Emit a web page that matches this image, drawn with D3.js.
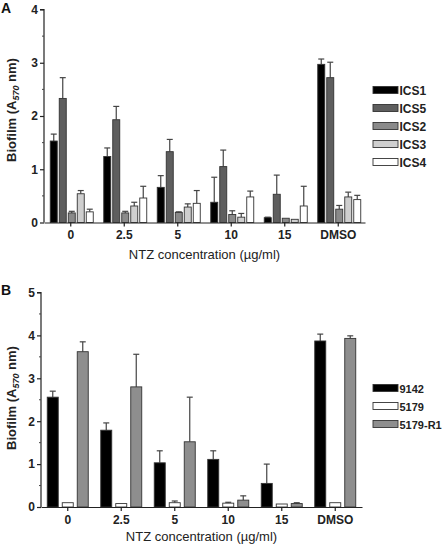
<!DOCTYPE html>
<html><head><meta charset="utf-8">
<script src="https://cdn.jsdelivr.net/npm/d3@7"></script>
<style>body{margin:0;background:#fff}svg{display:block}</style>
</head><body>
<svg id="c" width="444" height="546"></svg>
<script>
// ---- Data ----
const categories = ["0", "2.5", "5", "10", "15", "DMSO"];

// Panel A
const seriesA = ["ICS1", "ICS5", "ICS2", "ICS3", "ICS4"];
const legendOrderA = ["ICS1", "ICS5", "ICS2", "ICS3", "ICS4"];
const ICS1 = [1.53, 1.24, 0.66, 0.38, 0.09, 2.97];
const ICS1err = [0.13, 0.16, 0.22, 0.47, 0.01, 0.10];
const ICS5 = [2.33, 1.93, 1.33, 1.05, 0.53, 2.72];
const ICS5err = [0.39, 0.25, 0.23, 0.31, 0.36, 0.29];
const ICS2 = [0.18, 0.18, 0.19, 0.15, 0.08, 0.25];
const ICS2err = [0.03, 0.03, 0.01, 0.07, 0.0, 0.07];
const ICS3 = [0.54, 0.31, 0.29, 0.10, 0.06, 0.48];
const ICS3err = [0.06, 0.07, 0.06, 0.07, 0.0, 0.09];
const ICS4 = [0.20, 0.46, 0.36, 0.48, 0.31, 0.43];
const ICS4err = [0.05, 0.22, 0.24, 0.11, 0.37, 0.08];
const yTicksA = [0, 1, 2, 3, 4];

// Panel B
const seriesB = ["9142", "5179", "5179-R1"];
const S9142 = [2.56, 1.79, 1.03, 1.11, 0.55, 3.87];
const S9142err = [0.14, 0.17, 0.28, 0.20, 0.45, 0.16];
const S5179 = [0.10, 0.08, 0.10, 0.09, 0.07, 0.10];
const S5179err = [0.0, 0.0, 0.04, 0.02, 0.0, 0.0];
const S5179R1 = [3.62, 2.80, 1.52, 0.16, 0.08, 3.93];
const S5179R1err = [0.23, 0.76, 1.04, 0.10, 0.02, 0.06];
const yTicksB = [0, 1, 2, 3, 4, 5];

const colorsA = {ICS1: "#000000", ICS5: "#5e5e5e", ICS2: "#8a8a8a", ICS3: "#cfcfcf", ICS4: "#ffffff"};
const colorsB = {"9142": "#000000", "5179": "#ffffff", "5179-R1": "#8e8e8e"};

const dataA = {ICS1: [ICS1, ICS1err], ICS5: [ICS5, ICS5err], ICS2: [ICS2, ICS2err], ICS3: [ICS3, ICS3err], ICS4: [ICS4, ICS4err]};
const dataB = {"9142": [S9142, S9142err], "5179": [S5179, S5179err], "5179-R1": [S5179R1, S5179R1err]};

const svg = d3.select("#c");
const FONT = "'Liberation Sans', Arial, sans-serif";

function panel(opts) {
  const g = svg.append("g");
  const x = d3.scaleBand().domain(categories).range([opts.x0, opts.x1]);
  const y = d3.scaleLinear().domain([0, opts.ymax]).range([opts.y0, opts.y1]);
  const inner = d3.scaleBand().domain(opts.series).range([0, opts.step * opts.series.length]).paddingInner(0);
  const groupW = opts.step * (opts.series.length - 1) + opts.barW;

  // bars
  opts.series.forEach((s, si) => {
    const [vals, errs] = opts.data[s];
    categories.forEach((c, ci) => {
      const cx = x(c) + x.bandwidth() / 2 + opts.shift;
      const bx = cx - groupW / 2 + inner(s);
      const v = vals[ci], e = errs[ci];
      if (e > 0) {
        const mx = bx + opts.barW / 2;
        g.append("line").attr("x1", mx).attr("x2", mx).attr("y1", y(v)).attr("y2", y(v + e))
          .attr("stroke", "#444").attr("stroke-width", 1.2);
        g.append("line").attr("x1", mx - 3).attr("x2", mx + 3).attr("y1", y(v + e)).attr("y2", y(v + e))
          .attr("stroke", "#444").attr("stroke-width", 1.2);
      }
      g.append("rect").attr("x", bx).attr("y", y(v)).attr("width", opts.barW).attr("height", y(0) - y(v))
        .attr("fill", opts.colors[s]).attr("stroke", "#333").attr("stroke-width", 0.9);
    });
  });

  // y axis
  const yAxis = d3.axisLeft(y).tickValues(opts.yTicks).tickSize(4).tickFormat(d3.format("d"));
  const ya = g.append("g").attr("transform", `translate(${opts.x0},0)`).call(yAxis);
  ya.select(".domain").attr("stroke", "#222").attr("stroke-width", 1.2).attr("d", `M-4,${opts.y1}H0V${opts.y0}`);
  ya.selectAll(".tick line").attr("stroke", "#222").attr("stroke-width", 1.2);
  ya.selectAll(".tick text").attr("font-family", FONT).attr("font-weight", "bold").attr("font-size", 12).attr("fill", "#222").attr("x", -6);
  const minor = d3.range(0.5, opts.ymax, 1);
  g.selectAll(null).data(minor).enter().append("line")
    .attr("x1", opts.x0 - 2).attr("x2", opts.x0).attr("y1", d => y(d)).attr("y2", d => y(d))
    .attr("stroke", "#444").attr("stroke-width", 1);

  // x axis
  const xAxis = d3.axisBottom(x).tickSize(4).tickSizeOuter(0);
  const xa = g.append("g").attr("transform", `translate(0,${opts.y0})`).call(xAxis);
  xa.select(".domain").attr("stroke", "#222").attr("stroke-width", 1.2);
  xa.selectAll(".tick line").attr("stroke", "#222").attr("stroke-width", 1.2);
  xa.selectAll(".tick text").attr("font-family", FONT).attr("font-weight", "bold").attr("font-size", 12).attr("fill", "#222").attr("y", 8);

  // titles
  g.append("text").attr("x", (opts.x0 + opts.x1) / 2).attr("y", opts.xTitleY).attr("text-anchor", "middle")
    .attr("font-family", FONT).attr("font-size", 13).attr("fill", "#222").text("NTZ concentration (\u00b5g/ml)");
  const yt = g.append("text").attr("transform", `translate(${opts.yTitleX},${opts.yTitleC}) rotate(-90)`).attr("text-anchor", "middle")
    .attr("font-family", FONT).attr("font-size", 13).attr("font-weight", "bold").attr("fill", "#222");
  yt.append("tspan").text("Biofilm (A");
  yt.append("tspan").attr("font-size", 9).attr("font-style", "italic").attr("dy", 3).text("570");
  yt.append("tspan").attr("dy", -3).text(" nm)");

  g.append("text").attr("x", 1).attr("y", opts.labelY).attr("font-family", FONT).attr("font-weight", "bold")
    .attr("font-size", 14).attr("fill", "#111").text(opts.label);

  // legend
  opts.legend.forEach((s, i) => {
    const ly = opts.legY + i * 18;
    g.append("rect").attr("x", 373).attr("y", ly - 3.5).attr("width", 25).attr("height", 7)
      .attr("fill", opts.colors[s]).attr("stroke", "#333").attr("stroke-width", 0.9);
    g.append("text").attr("x", 399.5).attr("y", ly + 4.5).attr("font-family", FONT).attr("font-weight", "bold")
      .attr("font-size", opts.legFont).attr("fill", "#222").text(s);
  });
}

panel({series: seriesA, data: dataA, colors: colorsA, legend: legendOrderA, yTicks: yTicksA, ymax: 4,
  x0: 44, x1: 365, y0: 222.5, y1: 9.5, step: 9, barW: 7, shift: 1,
  xTitleY: 259, yTitleX: 16, yTitleC: 110, label: "A", labelY: 13, legY: 90, legFont: 12});

panel({series: seriesB, data: dataB, colors: colorsB, legend: seriesB, yTicks: yTicksB, ymax: 5,
  x0: 41, x1: 362, y0: 507, y1: 292.5, step: 15, barW: 11, shift: 0,
  xTitleY: 541, yTitleX: 16, yTitleC: 398, label: "B", labelY: 295, legY: 388, legFont: 11});
</script>
</body></html>
